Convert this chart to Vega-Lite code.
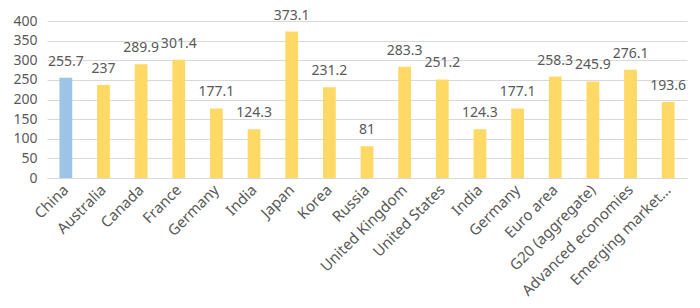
{
  "$schema": "https://vega.github.io/schema/vega-lite/v6.json",
  "width": 640,
  "height": 157,
  "autosize": {"type": "none"},
  "padding": {"left": 47, "top": 21, "right": 13, "bottom": 130},
  "background": "white",
  "config": {
    "view": {"stroke": null},
    "font": "Noto Sans",
    "axis": {"labelColor": "#595959", "labelFont": "Noto Sans", "gridColor": "#D9D9D9", "domainColor": "#D9D9D9"}
  },
  "data": {
    "values": [
      {"i": 0, "name": "China", "value": 255.7, "group": "china"},
      {"i": 1, "name": "Australia", "value": 237, "group": "other"},
      {"i": 2, "name": "Canada", "value": 289.9, "group": "other"},
      {"i": 3, "name": "France", "value": 301.4, "group": "other"},
      {"i": 4, "name": "Germany", "value": 177.1, "group": "other"},
      {"i": 5, "name": "India", "value": 124.3, "group": "other"},
      {"i": 6, "name": "Japan", "value": 373.1, "group": "other"},
      {"i": 7, "name": "Korea", "value": 231.2, "group": "other"},
      {"i": 8, "name": "Russia", "value": 81, "group": "other"},
      {"i": 9, "name": "United Kingdom", "value": 283.3, "group": "other"},
      {"i": 10, "name": "United States", "value": 251.2, "group": "other"},
      {"i": 11, "name": "India", "value": 124.3, "group": "other"},
      {"i": 12, "name": "Germany", "value": 177.1, "group": "other"},
      {"i": 13, "name": "Euro area", "value": 258.3, "group": "other"},
      {"i": 14, "name": "G20 (aggregate)", "value": 245.9, "group": "other"},
      {"i": 15, "name": "Advanced economies", "value": 276.1, "group": "other"},
      {"i": 16, "name": "Emerging market…", "value": 193.6, "group": "other"}
    ]
  },
  "encoding": {
    "x": {
      "field": "i",
      "type": "ordinal",
      "sort": null,
      "scale": {"paddingInner": 0.66, "paddingOuter": 0.33},
      "axis": {
        "title": null,
        "labelExpr": "['China','Australia','Canada','France','Germany','India','Japan','Korea','Russia','United Kingdom','United States','India','Germany','Euro area','G20 (aggregate)','Advanced economies','Emerging market…'][datum.value]",
        "labelAngle": -45,
        "labelAlign": "right",
        "labelBaseline": "middle",
        "labelFontSize": 15,
        "labelPadding": 9,
        "ticks": false,
        "domain": true,
        "grid": false
      }
    },
    "y": {
      "field": "value",
      "type": "quantitative",
      "scale": {"domain": [0, 400]},
      "axis": {
        "title": null,
        "values": [0, 50, 100, 150, 200, 250, 300, 350, 400],
        "labelFontSize": 14,
        "labelPadding": 10,
        "ticks": false,
        "domain": false,
        "grid": true
      }
    }
  },
  "layer": [
    {
      "mark": {"type": "bar"},
      "encoding": {
        "color": {
          "field": "group",
          "type": "nominal",
          "scale": {"domain": ["china", "other"], "range": ["#9DC3E6", "#FFD966"]},
          "legend": null
        }
      }
    },
    {
      "mark": {"type": "text", "baseline": "alphabetic", "dy": -12, "fontSize": 14, "color": "#595959"},
      "encoding": {"text": {"field": "value", "type": "quantitative"}}
    }
  ]
}
